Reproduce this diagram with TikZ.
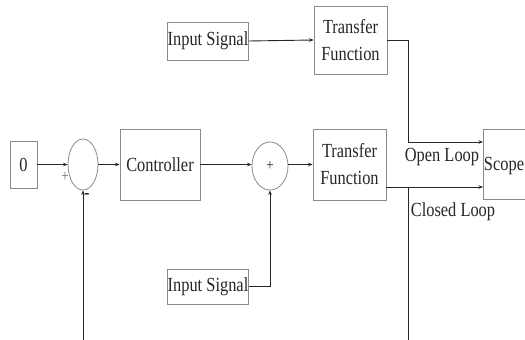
\documentclass[tikz,border=0pt]{standalone}
\usepackage{fontspec}
\setmainfont{Liberation Serif}[FakeStretch=0.82]
\usetikzlibrary{arrows.meta,shapes.geometric}
\definecolor{boxgray}{HTML}{8A8A8A}
\definecolor{wire}{HTML}{262626}
\begin{document}
\begin{tikzpicture}[x=1pt,y=-1pt,
  every node/.style={font=\fontsize{20}{27}\selectfont, text=black!85, inner sep=0pt, align=center},
  blockbox/.style={draw=boxgray, line width=0.8pt, rectangle},
  sumjunction/.style={draw=boxgray, line width=0.8pt, ellipse},
  wireline/.style={draw=wire, line width=0.9pt},
  flow/.style={wireline, -{Stealth[length=4.5pt,width=3.5pt]}},
  signlabel/.style={font=\fontsize{16}{18}\selectfont}
]
\useasboundingbox (0,0) rectangle (525,340);

% blocks
\node[blockbox, minimum width=27pt, minimum height=47pt] (zero) at (23.5,164.5) {0};
\node[sumjunction, minimum width=30pt, minimum height=51pt] (sumA) at (83,164.5) {};
\node[blockbox, minimum width=80pt, minimum height=71pt] (ctrl) at (160,164.5) {Controller};
\node[sumjunction, minimum width=36pt, minimum height=48pt] (sumB) at (270,166) {\fontsize{16}{18}\selectfont +};
\node[blockbox, minimum width=73pt, minimum height=71pt] (tfB) at (349.5,164.5) {Transfer\\Function};
\node[blockbox, minimum width=46pt, minimum height=70pt, anchor=west] (scope) at (483,164) {};
\node at (504,166) {Scope};
\node[blockbox, minimum width=80pt, minimum height=38pt] (inA) at (208,41) {Input Signal};
\node[blockbox, minimum width=73pt, minimum height=68pt] (tfA) at (350.5,40) {Transfer\\Function};
\node[blockbox, minimum width=80pt, minimum height=35pt] (inB) at (208,286.5) {Input Signal};

% sign marks on the first junction
\node[signlabel, text=black!60] (plusA) at (65,177) {+};
\node[signlabel, font=\fontsize{18}{18}\bfseries] (minusA) at (87,196) {-};

% routing points
\coordinate (olBend) at (408,142);
\coordinate (clStart) at (386,187);
\coordinate (fbTap) at (408,187);
\coordinate (fbEnd) at (408,340);
\coordinate (fbRet) at (83,340);

% main path
\draw[flow] (zero.east) -- (sumA.west);
\draw[flow] (sumA.east) -- (ctrl.west);
\draw[flow] (ctrl.east) -- (ctrl.east -| sumB.west);
\draw[flow] (sumB.east |- ctrl.east) -- (tfB.west);
\draw[flow] (inB.east) -| (sumB.south);
\draw[flow] (fbRet) -- (sumA.south);

% open loop branch
\draw[flow] (inA.east) -- (tfA.west);
\draw[flow] (tfA.east) -| (olBend) -- (olBend -| scope.west);

% closed loop branch and feedback tap
\draw[flow] (clStart) -- (clStart -| scope.west);
\draw[wireline] (fbTap) -- (fbEnd);

% branch labels
\node (olLabel) at (442,157) {Open Loop};
\node (clLabel) at (453,212) {Closed Loop};
\end{tikzpicture}
\end{document}
